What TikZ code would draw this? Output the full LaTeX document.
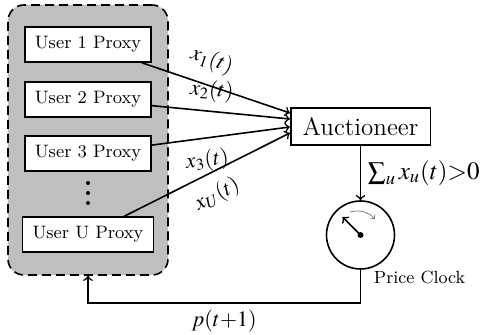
\documentclass[tikz,border=0pt]{standalone}
\usepackage{mathptmx}
\usetikzlibrary{positioning, calc, arrows.meta}
\tikzset{>=to}

\begin{document}
\begin{tikzpicture}[x=0.5pt,y=0.5pt,thick,
    group/.style={draw,fill=gray!50,dash pattern=on 4.5pt off 2.5pt,rounded corners=8pt,minimum width=80pt,minimum height=135pt},
    proxy/.style={draw,fill=white,font=\fontsize{9}{11}\selectfont,minimum height=17.5pt,inner xsep=5pt},
    lbl/.style={font=\fontsize{11}{13}\selectfont,sloped,pos=0.42}]
    \useasboundingbox (0,0) rectangle (481,335);
    \node[group] (grp) at (88,195) {};
    \node[proxy] (u1) at (88,290.5) {User 1 Proxy};
    \node[proxy] (u2) at (88,235.5) {User 2 Proxy};
    \node[proxy] (u3) at (88,181.5) {User 3 Proxy};
    \node[proxy] (uU) at (88,100.5) {User U Proxy};
    % dots between the proxies
    \foreach \y in {152,142,132}
        \fill (88,\y) circle (1pt);
    \node[draw,font=\fontsize{12.5}{14}\selectfont,minimum height=18.5pt,inner xsep=6pt] (auc) at (360.5,208.5) {Auctioneer};
    \node[draw,circle,minimum size=34pt] (clock) at (360.5,100) {};
    \node[anchor=west,font=\fontsize{8.8}{11}\selectfont] (pc) at ($(clock.south)+(6,-8)$) {Price Clock};
    % clock face
    \draw[->] (clock.center) -- ($(clock.center)+(-18,18)$);
    \fill (clock.center) circle (1.5pt);
    \draw[->,gray,thin] ($(clock.center)+(-10.5,23)$) to[bend left=30] ($(clock.center)+(14.5,16)$);
    \path[->]
        (u1)    edge  node[lbl,above=3pt] {$x_1(t)$}  ([yshift=6.75pt]auc.west)
        (u2)    edge  node[lbl,above=1pt] {$x_2(t)$}  ([yshift=3.75pt]auc.west)
        (u3)    edge  node[lbl,below=2pt,pos=0.38] {$x_3(t)$}  ([yshift=-0.25pt]auc.west)
        (uU)    edge  node[lbl,below=2pt,pos=0.5] {$x_U(t)$}  ([yshift=-3.25pt]auc.west)
        (auc)   edge  node[right,font=\fontsize{12.5}{14}\selectfont] {$\sum_u x_u(t){>}0$} (clock)
    ;
    \coordinate (fb) at ($(clock.south)+(0,-33)$);
    \draw[->] (clock.south) -- (fb) -- node[below,font=\fontsize{11}{13}\selectfont] {$p(t{+}1)$} (fb -| grp.south) -- (grp.south);
\end{tikzpicture}
\end{document}
